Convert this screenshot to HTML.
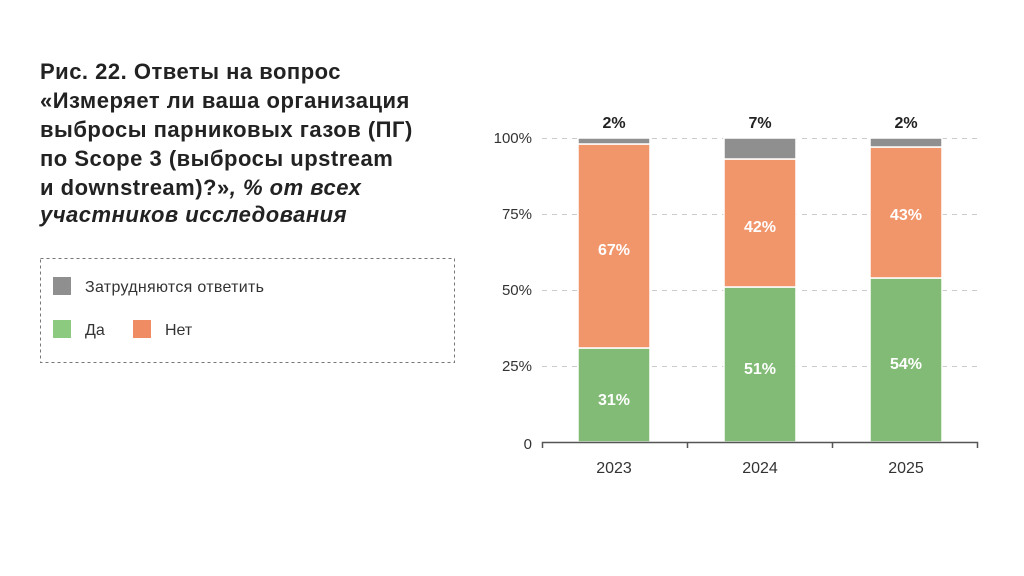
<!DOCTYPE html>
<html><head><meta charset="utf-8"><style>
html,body{margin:0;padding:0;background:#fff;width:1024px;height:576px;overflow:hidden}
svg{display:block}
</style></head><body>
<svg width="1024" height="576" viewBox="0 0 1024 576" xmlns="http://www.w3.org/2000/svg" font-family="Liberation Sans, DejaVu Sans, sans-serif">
<g font-size="22" font-weight="bold" fill="#222" letter-spacing="0.5">
<text x="40" y="79">Рис. 22. Ответы на вопрос</text>
<text x="40" y="108">«Измеряет ли ваша организация</text>
<text x="40" y="137">выбросы парниковых газов (ПГ)</text>
<text x="40" y="166">по Scope 3 (выбросы upstream</text>
<text x="40" y="195">и downstream)?»<tspan font-style="italic">, % от всех</tspan></text>
<text x="40" y="222" font-style="italic">участников исследования</text>
</g>
<rect x="40.5" y="258.5" width="414" height="104" fill="none" stroke="#777" stroke-width="1" stroke-dasharray="3,3"/>
<rect x="53" y="277" width="18" height="18" fill="#8f8f8f"/>
<text x="85" y="292" font-size="16" fill="#333" letter-spacing="0.3">Затрудняются ответить</text>
<rect x="53" y="320" width="18" height="18" fill="#8cca80"/>
<text x="85" y="335" font-size="16" fill="#333">Да</text>
<rect x="133" y="320" width="18" height="18" fill="#f08c63"/>
<text x="165" y="335" font-size="16" fill="#333">Нет</text>
<g stroke="#ccc" stroke-width="1" stroke-dasharray="5,5">
<line x1="542" y1="138.5" x2="978" y2="138.5"/>
<line x1="542" y1="214.5" x2="978" y2="214.5"/>
<line x1="542" y1="290.5" x2="978" y2="290.5"/>
<line x1="542" y1="366.5" x2="978" y2="366.5"/>
</g>
<g font-size="15" fill="#333" text-anchor="end">
<text x="532" y="143">100%</text>
<text x="532" y="219">75%</text>
<text x="532" y="295">50%</text>
<text x="532" y="371">25%</text>
<text x="532" y="449">0</text>
</g>
<g stroke="#fff" stroke-width="1.5">
<rect x="578" y="348" width="72" height="94" fill="#82bb76"/>
<rect x="578" y="144" width="72" height="204" fill="#f1956b"/>
<rect x="578" y="138" width="72" height="6" fill="#8f8f8f"/>
<rect x="724" y="287" width="72" height="155" fill="#82bb76"/>
<rect x="724" y="159" width="72" height="128" fill="#f1956b"/>
<rect x="724" y="138" width="72" height="21" fill="#8f8f8f"/>
<rect x="870" y="278" width="72" height="164" fill="#82bb76"/>
<rect x="870" y="147" width="72" height="131" fill="#f1956b"/>
<rect x="870" y="138" width="72" height="9" fill="#8f8f8f"/>
</g>
<path d="M542.5 448 V442.5 H977.5 V448 M687.5 442 V448 M832.5 442 V448" fill="none" stroke="#555" stroke-width="1.5"/>
<g font-size="16" font-weight="bold" fill="#fff" text-anchor="middle">
<text x="614" y="255">67%</text>
<text x="614" y="405">31%</text>
<text x="760" y="232">42%</text>
<text x="760" y="374">51%</text>
<text x="906" y="220">43%</text>
<text x="906" y="369">54%</text>
</g>
<g font-size="16" font-weight="bold" fill="#222" text-anchor="middle">
<text x="614" y="128">2%</text>
<text x="760" y="128">7%</text>
<text x="906" y="128">2%</text>
</g>
<g font-size="16" fill="#333" text-anchor="middle">
<text x="614" y="473">2023</text>
<text x="760" y="473">2024</text>
<text x="906" y="473">2025</text>
</g>
</svg>
</body></html>
